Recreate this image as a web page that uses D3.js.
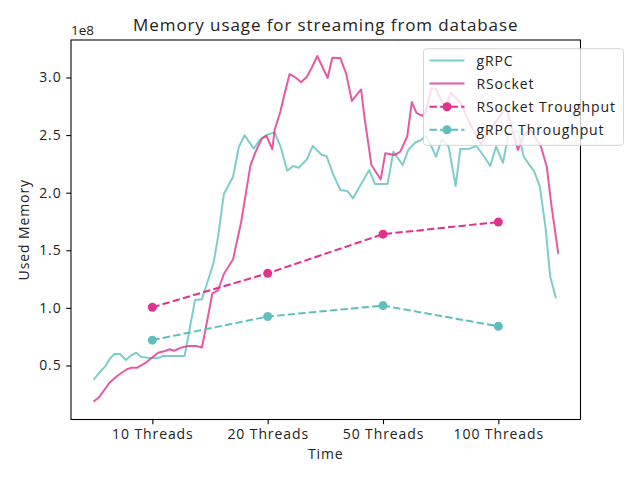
<!DOCTYPE html>
<html>
<head>
<meta charset="utf-8">
<script src="https://cdn.jsdelivr.net/npm/d3@7"></script>
<style>
  body { margin: 0; background: #fff; }
  svg text { font-family: "Open Sans", sans-serif; fill: #222; letter-spacing: 0.9px; }
</style>
</head>
<body>
<div id="chart"></div>
<script>
// tick labels on the x axis
const threadLabels = ["10 Threads", "20 Threads", "50 Threads", "100 Threads"];

// throughput series, one value per thread setting
const rsocketThroughput = [1.005e8, 1.30e8, 1.64e8, 1.745e8];
const grpcThroughput = [0.72e8, 0.925e8, 1.02e8, 0.84e8];

// memory samples: position along the time axis and value
const grpcMemX = [-0.51, -0.44, -0.41, -0.37, -0.33, -0.28, -0.23, -0.18, -0.14, -0.10, -0.04, 0.05, 0.09, 0.28, 0.37, 0.43,
  0.53, 0.57, 0.62, 0.70, 0.75, 0.80, 0.88, 0.93, 0.99, 1.06, 1.11, 1.17, 1.22, 1.27, 1.34, 1.39, 1.47, 1.51, 1.57, 1.63,
  1.69, 1.74, 1.81, 1.88, 1.93, 2.04, 2.09, 2.17, 2.22, 2.28, 2.33, 2.37, 2.41, 2.46, 2.51, 2.57, 2.63, 2.67, 2.75, 2.81,
  2.87, 2.93, 2.98, 3.04, 3.09, 3.13, 3.17, 3.22, 3.26, 3.31, 3.36, 3.41, 3.45, 3.50];
const grpcMem = [0.374, 0.461, 0.490, 0.556, 0.600, 0.600, 0.548, 0.591, 0.611, 0.576, 0.568, 0.563, 0.582, 0.582, 1.069, 1.075,
  1.387, 1.618, 1.989, 2.139, 2.399, 2.498, 2.382, 2.457, 2.501, 2.524, 2.405, 2.191, 2.232, 2.217, 2.290, 2.405, 2.327, 2.319, 2.154, 2.023,
  2.015, 1.951, 2.076, 2.197, 2.076, 2.076, 2.356, 2.240, 2.373, 2.436, 2.457, 2.492, 2.423, 2.313, 2.466, 2.397, 2.058, 2.379, 2.382, 2.405,
  2.323, 2.232, 2.401, 2.260, 2.516, 2.524, 2.536, 2.313, 2.255, 2.188, 2.052, 1.691, 1.271, 1.083].map(v => v * 1e8);

const rsocketMemX = [-0.51, -0.46, -0.37, -0.30, -0.22, -0.18, -0.13, -0.06, -0.01, 0.05, 0.11, 0.15, 0.19, 0.25, 0.31, 0.38,
  0.43, 0.46, 0.52, 0.57, 0.62, 0.70, 0.77, 0.85, 0.89, 0.95, 0.99, 1.04, 1.06, 1.11, 1.14, 1.19, 1.24, 1.29, 1.34, 1.39,
  1.43, 1.52, 1.56, 1.63, 1.68, 1.73, 1.81, 1.84, 1.90, 1.98, 2.02, 2.10, 2.15, 2.21, 2.25, 2.29, 2.34, 2.37, 2.42, 2.46,
  2.50, 2.54, 2.59, 2.67, 2.76, 2.85, 2.94, 3.02, 3.07, 3.17, 3.22, 3.28, 3.32, 3.37, 3.42, 3.46, 3.52];
const rsocketMem = [0.186, 0.227, 0.352, 0.413, 0.467, 0.481, 0.481, 0.522, 0.563, 0.611, 0.626, 0.641, 0.628, 0.655, 0.669, 0.669,
  0.656, 0.808, 1.125, 1.153, 1.294, 1.422, 1.746, 2.232, 2.342, 2.472, 2.492, 2.377, 2.544, 2.703, 2.833, 3.030, 3.002, 2.958, 3.007, 3.100,
  3.187, 2.996, 3.172, 3.169, 3.036, 2.796, 2.896, 2.648, 2.240, 2.115, 2.342, 2.327, 2.356, 2.488, 2.787, 2.692, 2.666, 2.703, 2.906, 2.900,
  2.811, 2.747, 2.868, 2.783, 2.588, 2.423, 2.562, 2.674, 2.735, 2.371, 2.501, 2.544, 2.481, 2.399, 2.226, 1.893, 1.468].map(v => v * 1e8);

const grpcColor = "#5fbfbe";
const rsocketColor = "#e0318e";

const W = 640, H = 480;
const margin = { top: 40, right: 59.5, bottom: 60.5, left: 71 };
const width = W - margin.left - margin.right,
  height = H - margin.top - margin.bottom;

const svg = d3.select("#chart").append("svg")
  .attr("width", W)
  .attr("height", H);

const x = d3.scaleLinear().domain([-0.7055, 3.7125]).range([0, width]);
const y = d3.scaleLinear().domain([0.031e8, 3.3255e8]).range([height, 0]);

const g = svg.append("g")
  .attr("transform", "translate(" + margin.left + "," + margin.top + ")");

const line = d3.line().x(d => x(d[0])).y(d => y(d[1]));

// memory lines
g.append("path")
  .datum(grpcMemX.map((t, i) => [t, grpcMem[i]]))
  .attr("d", line)
  .attr("fill", "none")
  .attr("stroke", grpcColor)
  .attr("stroke-opacity", 0.8)
  .attr("stroke-width", 2)
  .attr("stroke-linejoin", "round");

g.append("path")
  .datum(rsocketMemX.map((t, i) => [t, rsocketMem[i]]))
  .attr("d", line)
  .attr("fill", "none")
  .attr("stroke", rsocketColor)
  .attr("stroke-opacity", 0.8)
  .attr("stroke-width", 2)
  .attr("stroke-linejoin", "round");

// throughput lines with dots
function throughput(values, color) {
  const pts = values.map((v, i) => [i, v]);
  g.append("path")
    .datum(pts)
    .attr("d", line)
    .attr("fill", "none")
    .attr("stroke", color)
    .attr("stroke-width", 2)
    .attr("stroke-dasharray", "7.4,3.2");
  g.append("g")
    .selectAll("circle")
    .data(pts)
    .enter()
    .append("circle")
    .attr("cx", d => x(d[0]))
    .attr("cy", d => y(d[1]))
    .attr("r", 4.5)
    .attr("fill", color);
}
throughput(rsocketThroughput, rsocketColor);
throughput(grpcThroughput, grpcColor);

// axes
const xAxis = g.append("g")
  .attr("transform", "translate(0," + height + ")")
  .call(d3.axisBottom(x).tickValues([0, 1, 2, 3]).tickFormat(i => threadLabels[i])
    .tickSize(4.7).tickPadding(4.7));
const yAxis = g.append("g")
  .call(d3.axisLeft(y).tickValues([0.5e8, 1e8, 1.5e8, 2e8, 2.5e8, 3e8])
    .tickFormat(d => (d / 1e8).toFixed(1)).tickSize(4.7).tickPadding(4.7));
[xAxis, yAxis].forEach(a => {
  a.select(".domain").remove();
  a.selectAll("line").attr("stroke", "#000").attr("stroke-width", 1.07);
  a.selectAll("text").attr("font-size", 14).attr("fill", "#222")
    .style("font-family", "'Open Sans', sans-serif");
});

// frame
g.append("rect")
  .attr("width", width)
  .attr("height", height)
  .attr("fill", "none")
  .attr("stroke", "#000")
  .attr("stroke-width", 1.07);

// labels
svg.append("text")
  .attr("x", margin.left + width / 2)
  .attr("y", 31)
  .attr("text-anchor", "middle")
  .attr("font-size", 17)
  .text("Memory usage for streaming from database");

svg.append("text")
  .attr("x", margin.left)
  .attr("y", 35)
  .attr("font-size", 13.5)
  .style("letter-spacing", "0px")
  .text("1e8");

svg.append("text")
  .attr("x", margin.left + width / 2)
  .attr("y", 459)
  .attr("text-anchor", "middle")
  .attr("font-size", 14)
  .text("Time");

svg.append("text")
  .attr("transform", "translate(29," + (margin.top + height / 2) + ") rotate(-90)")
  .attr("text-anchor", "middle")
  .attr("font-size", 14)
  .text("Used Memory");

// legend
const legend = svg.append("g").attr("transform", "translate(423.5,48.7)");
legend.append("rect")
  .attr("width", 200)
  .attr("height", 96.6)
  .attr("rx", 3)
  .attr("fill", "#fff")
  .attr("fill-opacity", 0.8)
  .attr("stroke", "#ccc")
  .attr("stroke-opacity", 0.8);

const legendItems = [
  { label: "gRPC", color: grpcColor, dashed: false },
  { label: "RSocket", color: rsocketColor, dashed: false },
  { label: "RSocket Troughput", color: rsocketColor, dashed: true },
  { label: "gRPC Throughput", color: grpcColor, dashed: true }
];
const rows = legend.selectAll(".row")
  .data(legendItems)
  .enter()
  .append("g")
  .attr("transform", (d, i) => "translate(0," + (11.8 + i * 23.1) + ")");
rows.append("line")
  .attr("x1", 6).attr("x2", 41)
  .attr("stroke", d => d.color)
  .attr("stroke-opacity", d => d.dashed ? 1 : 0.8)
  .attr("stroke-width", 2)
  .attr("stroke-dasharray", d => d.dashed ? "7.4,3.2" : null);
rows.filter(d => d.dashed).append("circle")
  .attr("cx", 23.5)
  .attr("r", 4.5)
  .attr("fill", d => d.color);
rows.append("text")
  .attr("x", 53)
  .attr("y", 5)
  .attr("font-size", 14)
  .text(d => d.label);
</script>
</body>
</html>
